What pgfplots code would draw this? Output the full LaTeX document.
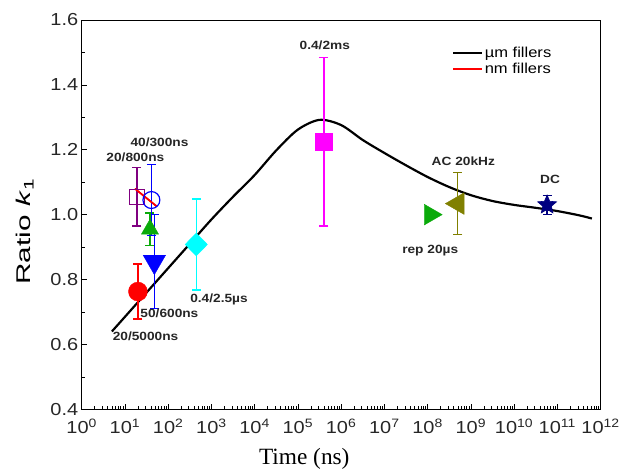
\documentclass[border=0pt]{standalone}
\usepackage{graphicx}
\usepackage{pgfplots}
\pgfplotsset{compat=1.18}
\usetikzlibrary{calc}
\usepackage{fontspec}
\setmainfont{Liberation Sans}[FakeStretch=1.15]
\newfontfamily\timesfont{Liberation Serif}
\definecolor{redm}{RGB}{255,0,0}
\definecolor{bluem}{RGB}{0,0,255}
\definecolor{greenm}{RGB}{10,170,10}
\definecolor{cyanm}{RGB}{0,255,255}
\definecolor{magentam}{RGB}{255,0,255}
\definecolor{olivem}{RGB}{128,128,0}
\definecolor{navym}{RGB}{0,0,128}
\definecolor{purplem}{RGB}{128,0,128}

% filled five-pointed star
\pgfdeclareplotmark{fivestar}{%
  \pgfpathmoveto{\pgfpointpolar{90}{\pgfplotmarksize}}%
  \pgfpathlineto{\pgfpointpolar{126}{0.45\pgfplotmarksize}}%
  \pgfpathlineto{\pgfpointpolar{162}{\pgfplotmarksize}}%
  \pgfpathlineto{\pgfpointpolar{198}{0.45\pgfplotmarksize}}%
  \pgfpathlineto{\pgfpointpolar{234}{\pgfplotmarksize}}%
  \pgfpathlineto{\pgfpointpolar{270}{0.45\pgfplotmarksize}}%
  \pgfpathlineto{\pgfpointpolar{306}{\pgfplotmarksize}}%
  \pgfpathlineto{\pgfpointpolar{342}{0.45\pgfplotmarksize}}%
  \pgfpathlineto{\pgfpointpolar{18}{\pgfplotmarksize}}%
  \pgfpathlineto{\pgfpointpolar{54}{0.45\pgfplotmarksize}}%
  \pgfpathclose
  \pgfusepathqfillstroke}

% error bars in the colour of their marker
\pgfplotsset{
  ebar/.style={error bars/.cd, y dir=both, y explicit,
    error bar style={draw=#1, line width=1.3pt, solid},
    error mark options={rotate=90, draw=#1, mark size=4.5bp, line width=1.3pt, solid}},
}

% minor log ticks 2..9 in every decade
\def\minorlist{1}
\foreach \e in {0,...,11}{\foreach \m in {2,...,9}{\xdef\minorlist{\minorlist,\m e\e}}}

\begin{document}
\begin{tikzpicture}
\begin{axis}[
  scale only axis,
  width=521bp, height=391bp,
  xmode=log, log basis x=10,
  xmin=1, xmax=1e12,
  ymin=0.4, ymax=1.6,
  xtick={1,1e1,1e2,1e3,1e4,1e5,1e6,1e7,1e8,1e9,1e10,1e11,1e12},
  minor xtick/.expand once=\minorlist,
  xticklabels={10\textsuperscript{0},10\textsuperscript{1},10\textsuperscript{2},10\textsuperscript{3},10\textsuperscript{4},10\textsuperscript{5},10\textsuperscript{6},10\textsuperscript{7},10\textsuperscript{8},10\textsuperscript{9},10\textsuperscript{10},10\textsuperscript{11},10\textsuperscript{12}},
  ytick={0.4,0.6,...,1.61},
  minor ytick={0.5,0.7,...,1.51},
  yticklabel style={/pgf/number format/fixed,/pgf/number format/fixed zerofill,/pgf/number format/precision=1},
  /pgf/number format/assume math mode=true,
  tick pos=left,
  tick align=inside,
  major tick length=5bp,
  minor tick length=3bp,
  tick style={black, line width=0.6pt},
  ticklabel style={font=\fontsize{17.5}{19}\selectfont, text=black!85},
  xticklabel style={yshift=-6bp},
  axis line style={line width=0.8pt},
  xlabel={\timesfont\fontsize{23.5}{25}\selectfont Time (ns)},
  ylabel={\scalebox{1.3}[1]{\fontsize{20}{22}\selectfont Ratio \textit{k}\textsubscript{1}}},
  xlabel style={yshift=-8bp, xshift=-37bp},
  ylabel style={yshift=10bp, xshift=-17bp},
  legend style={at={(0.915,0.94)}, anchor=north east, draw=none, fill=none,
    font=\fontsize{14.5}{16}\selectfont, row sep=0bp},
  legend image code/.code={\draw[mark repeat=2,mark phase=2] plot coordinates {(0cm,0cm) (0.5cm,0cm) (1cm,0cm)};},
  legend cell align=left,
  clip=false,
]
% fitted curve for micron-sized fillers
\addplot[black, line width=2.2pt, smooth] coordinates {
  (5,0.64) (10,0.685) (31.62,0.76) (100,0.835) (316.2,0.91) (1000,0.985)
  (3162,1.055) (1e4,1.122) (3.162e4,1.198) (1e5,1.262) (3.162e5,1.292)
  (1e6,1.276) (3.162e6,1.230) (1e7,1.190) (3.162e7,1.152) (1e8,1.116)
  (3.162e8,1.085) (1e9,1.060) (3.162e9,1.042) (1e10,1.030) (3.162e10,1.021)
  (1e11,1.011) (3.162e11,0.998) (6.3e11,0.988)};
\addlegendentry{µm fillers}
% fitted line for nano-sized fillers
\addplot[draw=redm, line width=1.6pt] coordinates {(17,1.08) (55,1.025)};
\addlegendentry{nm fillers}

% measured ratios
\addplot[only marks, mark=*, mark size=9.5bp, mark options={draw=redm, fill=redm}, ebar=redm]
  coordinates {(20,0.763) +- (0,0.085)};
\addplot[only marks, mark=triangle*, mark size=13bp,
  mark options={rotate=180, draw=bluem, fill=bluem}, ebar=bluem]
  coordinates {(48,0.855) +- (0,0.145)};
\addplot[only marks, mark=triangle*, mark size=10bp,
  mark options={draw=greenm, fill=greenm}, ebar=greenm]
  coordinates {(38,0.955) +- (0,0.05)};
\addplot[only marks, mark=square, mark size=7.5bp,
  mark options={draw=purplem, line width=1.2pt}, ebar=purplem]
  coordinates {(19,1.055) +- (0,0.09)};
\addplot[only marks, mark=o, mark size=8.5bp,
  mark options={draw=bluem, line width=1.2pt}, ebar=bluem]
  coordinates {(41,1.045) +- (0,0.11)};
\addplot[only marks, mark=diamond*, mark size=11.5bp,
  mark options={draw=cyanm, fill=cyanm, xscale=1.3}, ebar=cyanm]
  coordinates {(447,0.908) +- (0,0.14)};
\addplot[only marks, mark=square*, mark size=8.5bp,
  mark options={draw=magentam, fill=magentam}, ebar=magentam]
  coordinates {(4e5,1.225) +- (0,0.26)};
\addplot[only marks, mark=triangle*, mark size=12bp,
  mark options={rotate=-90, draw=greenm, fill=greenm}]
  coordinates {(1.15e8,1.0)};
\addplot[only marks, mark=triangle*, mark size=12.5bp,
  mark options={rotate=90, draw=olivem, fill=olivem}, ebar=olivem]
  coordinates {(5e8,1.034) +- (0,0.095)};
\addplot[only marks, mark=fivestar, mark size=10bp,
  mark options={draw=navym, fill=navym, line width=0.6pt}, ebar=navym]
  coordinates {(5.8e10,1.03) +- (0,0.03)};

% the nano-filler line again, so that it lies over the open marks
\addplot[draw=redm, line width=1.6pt, forget plot] coordinates {(17,1.08) (55,1.025)};

% annotations
\begin{scope}[every node/.style={font=\bfseries\fontsize{12}{13}\selectfont, inner sep=0pt, text=black!85}]
\node at (axis cs:63,1.222) {40/300ns};
\node at (axis cs:17.5,1.178) {20/800ns};
\node at (axis cs:30,0.625) {20/5000ns};
\node at (axis cs:107,0.695) {50/600ns};
\node at (axis cs:1500,0.738) {0.4/2.5µs};
\node at (axis cs:4.2e5,1.523) {0.4/2ms};
\node at (axis cs:6.7e8,1.166) {AC 20kHz};
\node at (axis cs:6.8e10,1.108) {DC};
\node at (axis cs:1.15e8,0.89) {rep 20µs};
\end{scope}
\end{axis}
\path ($(current axis.south west)+(-82bp,-60bp)$) rectangle ($(current axis.north east)+(20bp,20bp)$);
\end{tikzpicture}
\end{document}
